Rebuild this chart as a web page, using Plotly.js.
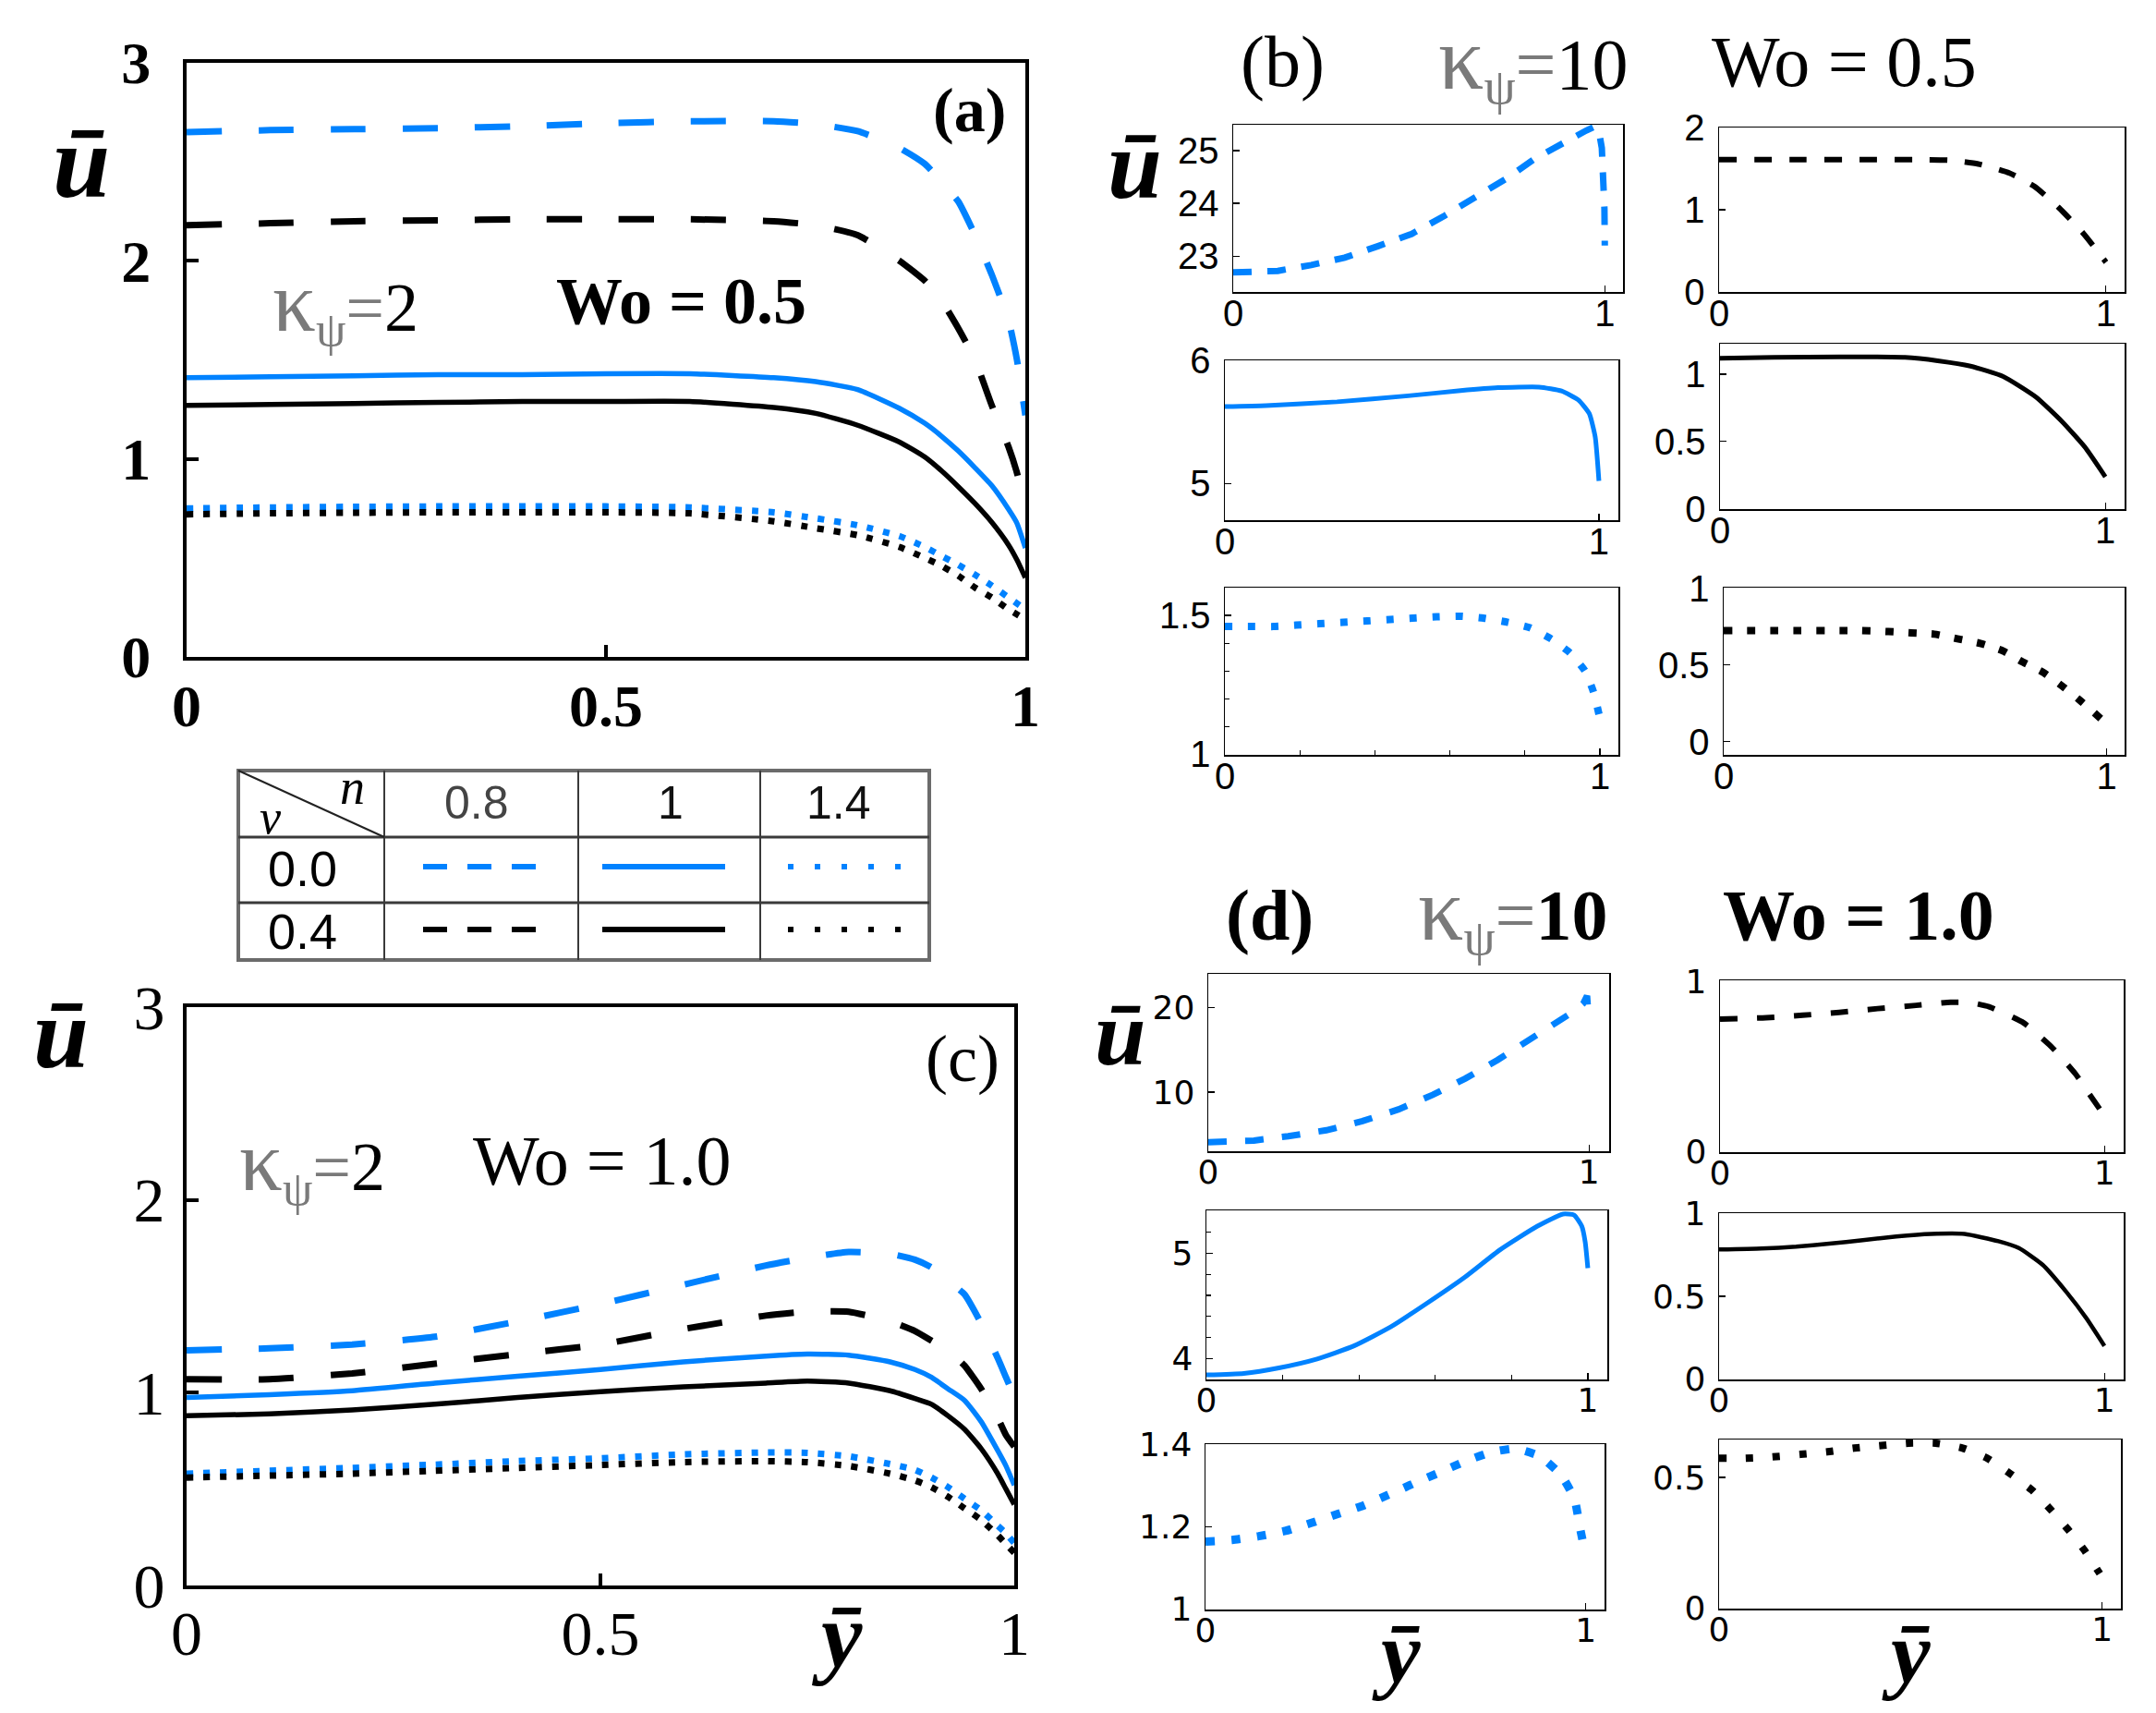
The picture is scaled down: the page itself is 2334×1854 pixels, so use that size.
<!DOCTYPE html>
<html><head><meta charset="utf-8">
<script src="https://cdn.plot.ly/plotly-3.0.1.min.js"></script>
<style>html,body{margin:0;padding:0;background:#fff}#chart{width:2334px;height:1854px}</style>
</head><body><div id="chart"></div>
<script>
const W = 2334, H = 1854;
const BLUE = '#0082ff', BLACK = '#000000';

// ---------- Panel (a): kappa_psi = 2, Wo = 0.5 ----------
const aY = [0, 0.1, 0.2, 0.3, 0.4, 0.5, 0.6, 0.7, 0.75, 0.8, 0.85, 0.88, 0.9, 0.92, 0.94, 0.96, 0.98, 0.99, 1.0];
const aNu0n08  = [2.65, 2.66, 2.665, 2.67, 2.68, 2.695, 2.705, 2.705, 2.69, 2.655, 2.57, 2.49, 2.40, 2.30, 2.13, 1.93, 1.70, 1.50, 1.22];
const aNu04n08 = [2.18, 2.19, 2.20, 2.205, 2.21, 2.21, 2.21, 2.20, 2.18, 2.13, 2.00, 1.90, 1.80, 1.66, 1.50, 1.27, 1.06, 0.93, 0.76];
const aNu0n1   = [1.41, 1.415, 1.42, 1.425, 1.425, 1.43, 1.43, 1.41, 1.39, 1.35, 1.255, 1.18, 1.115, 1.04, 0.955, 0.865, 0.745, 0.675, 0.55];
const aNu04n1  = [1.27, 1.275, 1.28, 1.285, 1.29, 1.29, 1.29, 1.26, 1.23, 1.17, 1.085, 1.01, 0.94, 0.86, 0.775, 0.68, 0.565, 0.49, 0.40];
const aNu0n14  = [0.75, 0.755, 0.758, 0.76, 0.76, 0.76, 0.755, 0.73, 0.70, 0.665, 0.61, 0.555, 0.51, 0.465, 0.415, 0.36, 0.30, 0.27, 0.24];
const aNu04n14 = [0.72, 0.725, 0.728, 0.73, 0.73, 0.73, 0.725, 0.685, 0.65, 0.615, 0.555, 0.50, 0.46, 0.41, 0.35, 0.30, 0.24, 0.215, 0.19];

// ---------- Panel (c): kappa_psi = 2, Wo = 1.0 ----------
const cY = [0, 0.1, 0.2, 0.3, 0.4, 0.5, 0.6, 0.7, 0.75, 0.8, 0.85, 0.88, 0.9, 0.92, 0.94, 0.96, 0.98, 0.99, 1.0];
const cNu0n08  = [1.22, 1.23, 1.25, 1.29, 1.37, 1.46, 1.56, 1.66, 1.70, 1.73, 1.72, 1.69, 1.65, 1.58, 1.51, 1.36, 1.18, 1.08, 0.98];
const cNu04n08 = [1.07, 1.07, 1.10, 1.15, 1.20, 1.25, 1.33, 1.40, 1.42, 1.42, 1.37, 1.32, 1.27, 1.22, 1.14, 1.02, 0.87, 0.78, 0.72];
const cNu0n1   = [0.975, 0.99, 1.01, 1.05, 1.085, 1.12, 1.16, 1.19, 1.20, 1.195, 1.16, 1.12, 1.08, 1.02, 0.96, 0.85, 0.70, 0.62, 0.52];
const cNu04n1  = [0.88, 0.89, 0.91, 0.94, 0.975, 1.005, 1.03, 1.05, 1.06, 1.05, 1.01, 0.97, 0.94, 0.88, 0.81, 0.71, 0.58, 0.50, 0.42];
const cNu0n14  = [0.58, 0.595, 0.61, 0.627, 0.645, 0.66, 0.68, 0.69, 0.688, 0.67, 0.63, 0.60, 0.56, 0.51, 0.45, 0.39, 0.31, 0.27, 0.22];
const cNu04n14 = [0.56, 0.57, 0.58, 0.595, 0.61, 0.625, 0.64, 0.645, 0.64, 0.62, 0.58, 0.545, 0.51, 0.46, 0.40, 0.34, 0.26, 0.215, 0.17];

// ---------- Panel (b): kappa_psi = 10, Wo = 0.5 ----------
const b1X = [0, 0.05, 0.12, 0.21, 0.30, 0.39, 0.48, 0.57, 0.65, 0.74, 0.81, 0.90, 0.95, 0.975, 0.985, 0.992, 0.996, 0.999, 1.0];
const b1U = [22.69, 22.69, 22.72, 22.83, 22.97, 23.19, 23.42, 23.77, 24.11, 24.49, 24.84, 25.21, 25.38, 25.46, 25.33, 25.05, 24.6, 23.9, 23.2];
const b2X = [0, 0.11, 0.3, 0.49, 0.63, 0.73, 0.84, 0.9, 0.945, 0.974, 0.99, 1.0];
const b2U = [5.626, 5.634, 5.665, 5.714, 5.756, 5.78, 5.785, 5.753, 5.68, 5.57, 5.38, 5.02];
const b3X = [0, 0.06, 0.13, 0.19, 0.25, 0.315, 0.38, 0.44, 0.5, 0.565, 0.63, 0.69, 0.755, 0.814, 0.87, 0.92, 0.96, 0.983, 0.998];
const b3U = [1.46, 1.46, 1.46, 1.465, 1.47, 1.475, 1.48, 1.485, 1.49, 1.495, 1.497, 1.49, 1.475, 1.455, 1.415, 1.365, 1.30, 1.223, 1.14];
const b4X = [0, 0.2, 0.4, 0.5, 0.6, 0.67, 0.75, 0.815, 0.878, 0.94, 1.0];
const b4U = [1.614, 1.614, 1.614, 1.612, 1.605, 1.56, 1.45, 1.285, 1.026, 0.72, 0.36];
const b5X = [0, 0.14, 0.31, 0.48, 0.565, 0.65, 0.735, 0.82, 0.887, 0.947, 1.0];
const b5U = [1.119, 1.125, 1.129, 1.125, 1.10, 1.06, 0.983, 0.83, 0.65, 0.458, 0.237];
const b6X = [0, 0.36, 0.43, 0.49, 0.55, 0.61, 0.67, 0.73, 0.78, 0.835, 0.885, 0.93, 0.985];
const b6U = [0.723, 0.723, 0.717, 0.708, 0.70, 0.67, 0.64, 0.59, 0.52, 0.45, 0.36, 0.27, 0.15];

// ---------- Panel (d): kappa_psi = 10, Wo = 1.0 ----------
const d1X = [0, 0.05, 0.12, 0.21, 0.31, 0.405, 0.5, 0.59, 0.675, 0.76, 0.84, 0.92, 0.965, 0.985, 0.995, 1.0];
const d1U = [4.08, 4.1, 4.27, 4.78, 5.48, 6.56, 7.96, 9.68, 11.6, 13.8, 16.05, 18.3, 19.7, 20.5, 21.4, 18.2];
const d2X = [0, 0.098, 0.19, 0.29, 0.387, 0.483, 0.58, 0.676, 0.77, 0.868, 0.935, 0.964, 0.984, 0.993, 1.0];
const d2U = [3.843, 3.858, 3.91, 3.995, 4.12, 4.30, 4.53, 4.77, 5.035, 5.26, 5.375, 5.365, 5.26, 5.11, 4.86];
const d3X = [0, 0.07, 0.14, 0.21, 0.28, 0.35, 0.415, 0.48, 0.55, 0.616, 0.68, 0.75, 0.815, 0.88, 0.935, 0.97, 0.984, 0.998];
const d3U = [1.164, 1.168, 1.177, 1.19, 1.21, 1.232, 1.252, 1.278, 1.307, 1.333, 1.359, 1.382, 1.391, 1.372, 1.326, 1.268, 1.20, 1.136];
const d4X = [0, 0.12, 0.215, 0.31, 0.41, 0.51, 0.6, 0.65, 0.70, 0.79, 0.86, 0.925, 0.96, 1.0];
const d4U = [0.778, 0.786, 0.80, 0.817, 0.839, 0.858, 0.876, 0.875, 0.85, 0.755, 0.62, 0.455, 0.34, 0.21];
const d5X = [0, 0.11, 0.2, 0.286, 0.373, 0.46, 0.55, 0.637, 0.725, 0.778, 0.84, 0.90, 0.953, 1.0];
const d5U = [0.783, 0.789, 0.80, 0.818, 0.84, 0.862, 0.877, 0.877, 0.833, 0.792, 0.69, 0.53, 0.368, 0.20];
const d6X = [0, 0.066, 0.137, 0.212, 0.283, 0.353, 0.424, 0.495, 0.565, 0.636, 0.70, 0.76, 0.817, 0.866, 0.91, 0.954, 0.994];
const d6U = [0.573, 0.573, 0.578, 0.588, 0.598, 0.612, 0.622, 0.631, 0.631, 0.612, 0.573, 0.514, 0.451, 0.376, 0.302, 0.22, 0.131];

// legend table labels
const nLabels = ['0.8', '1', '1.4'];
const nuLabels = ['0.0', '0.4'];

// ---------------- helpers ----------------
const PX = x => x / W;
const PY = y => 1 - y / H;
const SERIF = 'Liberation Serif, Times New Roman, DejaVu Serif, serif';
const SANS = 'Liberation Sans, Arial, sans-serif';
const DSANS = 'DejaVu Sans, Verdana, sans-serif';

function xAxis(x0, x1, range, anchor, o) {
  return Object.assign({
    domain: [PX(x0), PX(x1)], range: range, anchor: anchor,
    showgrid: false, zeroline: false, showline: true, mirror: true,
    linecolor: '#000', ticks: 'inside', tickcolor: '#000', fixedrange: true
  }, o);
}
function yAxis(y0, y1, range, anchor, o) {
  return Object.assign({
    domain: [PY(y1), PY(y0)], range: range, anchor: anchor,
    showgrid: false, zeroline: false, showline: true, mirror: true,
    linecolor: '#000', ticks: 'inside', tickcolor: '#000', fixedrange: true
  }, o);
}

const bigA = { linewidth: 4, ticklen: 13, tickwidth: 4, tickfont: { family: SERIF, size: 64, color: '#000', weight: 'bold' } };
const bigC = { linewidth: 4, ticklen: 13, tickwidth: 4, tickfont: { family: SERIF, size: 68, color: '#000' } };
const smB = { linewidth: 1.5, ticklen: 7, tickwidth: 1.2, tickfont: { family: SANS, size: 40, color: '#000' } };
const smD = { linewidth: 1.5, ticklen: 7, tickwidth: 1.2, tickfont: { family: DSANS, size: 36, color: '#000' } };
const sX = o => Object.assign({}, o, { ticklabelstandoff: -13 });
const sY = o => Object.assign({}, o, { ticklabelstandoff: 6 });
const dX = o => Object.assign({}, o, { ticklabelstandoff: -10 });

const layout = {
  width: W, height: H, margin: { l: 0, r: 0, t: 0, b: 0 },
  paper_bgcolor: '#fff', plot_bgcolor: 'rgba(0,0,0,0)', showlegend: false,
  // (a)
  xaxis: xAxis(202, 1110, [0, 1], 'y', Object.assign({}, bigA, { ticklabelstandoff: -6, tickvals: [0, 0.5, 1], ticktext: ['0', '0.5', '1'] })),
  yaxis: yAxis(68, 711, [0, 3], 'x', Object.assign({}, bigA, { ticklabelstandoff: 22, tickvals: [0, 1, 2, 3], ticktext: ['0', '1', '2', '3'] })),
  // (c)
  xaxis2: xAxis(202, 1098, [0, 1], 'y2', Object.assign({}, bigC, { ticklabelstandoff: -11, tickvals: [0, 0.5, 1], ticktext: ['0', '0.5', '1'] })),
  yaxis2: yAxis(1090, 1716, [0, 3], 'x2', Object.assign({}, bigC, { ticklabelstandoff: 6, tickvals: [0, 1, 2, 3], ticktext: ['0', '1', '2', '3'] })),
  // (b) left column
  xaxis3: xAxis(1335, 1757, [0, 1.049], 'y3', Object.assign(sX(smB), { tickvals: [0, 1] })),
  yaxis3: yAxis(135, 316, [22.32, 25.49], 'x3', Object.assign(sY(smB), { tickvals: [23, 24, 25] })),
  xaxis4: xAxis(1326, 1752, [0, 1.052], 'y4', Object.assign(sX(smB), { tickvals: [0, 1] })),
  yaxis4: yAxis(390, 563, [4.70, 6.003], 'x4', Object.assign(sY(smB), { tickvals: [5, 6] })),
  xaxis5: xAxis(1326, 1752, [0, 1.049], 'y5', Object.assign(sX(smB), { tickvals: [0, 1], minor: { tickvals: [0.2, 0.4, 0.6, 0.8], ticks: 'inside', ticklen: 5, tickcolor: '#000' } })),
  yaxis5: yAxis(636, 817, [0.998, 1.6], 'x5', Object.assign(sY(smB), { tickvals: [1, 1.5], ticktext: ['1', '1.5'], minor: { tickvals: [1.1, 1.2, 1.3, 1.4], ticks: 'inside', ticklen: 5, tickcolor: '#000' } })),
  // (b) right column
  xaxis6: xAxis(1861, 2300, [0, 1.048], 'y6', Object.assign(sX(smB), { tickvals: [0, 1] })),
  yaxis6: yAxis(138, 316, [-0.003, 2.005], 'x6', Object.assign(sY(smB), { tickvals: [0, 1, 2] })),
  xaxis7: xAxis(1862, 2300, [0, 1.05], 'y7', Object.assign(sX(smB), { tickvals: [0, 1] })),
  yaxis7: yAxis(372, 551, [-0.003, 1.227], 'x7', Object.assign(sY(smB), { tickvals: [0, 0.5, 1], ticktext: ['0', '0.5', '1'] })),
  xaxis8: xAxis(1866, 2300, [0, 1.047], 'y8', Object.assign(sX(smB), { tickvals: [0, 1] })),
  yaxis8: yAxis(636, 817, [-0.086, 1.003], 'x8', Object.assign(sY(smB), { tickvals: [0, 0.5, 1], ticktext: ['0', '0.5', '1'] })),
  // (d) left column
  xaxis9: xAxis(1308, 1742, [0, 1.053], 'y9', Object.assign(dX(smD), { tickvals: [0, 1] })),
  yaxis9: yAxis(1054, 1246, [3, 24], 'x9', Object.assign(sY(smD), { tickvals: [10, 20] })),
  xaxis10: xAxis(1306, 1740, [0, 1.051], 'y10', Object.assign(dX(smD), { tickvals: [0, 1], minor: { tickvals: [0.2, 0.4, 0.6, 0.8], ticks: 'inside', ticklen: 5, tickcolor: '#000' } })),
  yaxis10: yAxis(1310, 1493, [3.8, 5.41], 'x10', Object.assign(sY(smD), { tickvals: [4, 5], minor: { tickvals: [4.2, 4.4, 4.6, 4.8, 5.2], ticks: 'inside', ticklen: 5, tickcolor: '#000' } })),
  xaxis11: xAxis(1305, 1737, [0, 1.049], 'y11', Object.assign(dX(smD), { tickvals: [0, 1] })),
  yaxis11: yAxis(1563, 1742, [0.998, 1.402], 'x11', Object.assign(sY(smD), { tickvals: [1, 1.2, 1.4], ticktext: ['1', '1.2', '1.4'] })),
  // (d) right column
  xaxis12: xAxis(1862, 2299, [0, 1.05], 'y12', Object.assign(dX(smD), { tickvals: [0, 1] })),
  yaxis12: yAxis(1061, 1247, [-0.003, 1.005], 'x12', Object.assign(sY(smD), { tickvals: [0, 1] })),
  xaxis13: xAxis(1861, 2299, [0, 1.05], 'y13', Object.assign(dX(smD), { tickvals: [0, 1] })),
  yaxis13: yAxis(1313, 1493, [-0.003, 1.003], 'x13', Object.assign(sY(smD), { tickvals: [0, 0.5, 1], ticktext: ['0', '0.5', '1'] })),
  xaxis14: xAxis(1861, 2296, [0, 1.049], 'y14', Object.assign(dX(smD), { tickvals: [0, 1] })),
  yaxis14: yAxis(1558, 1741, [-0.003, 0.645], 'x14', Object.assign(sY(smD), { tickvals: [0, 0.5], ticktext: ['0', '0.5'] })),
  annotations: [],
  shapes: []
};

// ---------------- traces ----------------
const traces = [];
function addLine(x, y, ax, color, width, dash, shape) {
  traces.push({
    x: x, y: y, xaxis: 'x' + (ax === 1 ? '' : ax), yaxis: 'y' + (ax === 1 ? '' : ax),
    type: 'scatter', mode: 'lines', hoverinfo: 'skip',
    line: { color: color, width: width, dash: dash, shape: shape || 'spline', smoothing: 0.5 }
  });
}
const DASH_BIG = '38px,40px', DOT_BIG = '7px,11px';
// (a)
addLine(aY, aNu0n08, 1, BLUE, 7, DASH_BIG);
addLine(aY, aNu04n08, 1, BLACK, 7, DASH_BIG);
addLine(aY, aNu0n1, 1, BLUE, 5.5, 'solid');
addLine(aY, aNu04n1, 1, BLACK, 5.5, 'solid');
addLine(aY, aNu0n14, 1, BLUE, 7, DOT_BIG);
addLine(aY, aNu04n14, 1, BLACK, 7, DOT_BIG);
// (c)
addLine(cY, cNu0n08, 2, BLUE, 7, DASH_BIG);
addLine(cY, cNu04n08, 2, BLACK, 7, DASH_BIG);
addLine(cY, cNu0n1, 2, BLUE, 5.5, 'solid');
addLine(cY, cNu04n1, 2, BLACK, 5.5, 'solid');
addLine(cY, cNu0n14, 2, BLUE, 7, DOT_BIG);
addLine(cY, cNu04n14, 2, BLACK, 7, DOT_BIG);
// (b)
addLine(b1X, b1U, 3, BLUE, 7, '20px,17px', 'linear');
addLine(b2X, b2U, 4, BLUE, 5, 'solid');
addLine(b3X, b3U, 5, BLUE, 8, '8px,17px');
addLine(b4X, b4U, 6, BLACK, 6, '19px,19px');
addLine(b5X, b5U, 7, BLACK, 5, 'solid');
addLine(b6X, b6U, 8, BLACK, 8, '9px,16px');
// (d)
addLine(d1X, d1U, 9, BLUE, 7, '20px,20px', 'linear');
addLine(d2X, d2U, 10, BLUE, 5, 'solid');
addLine(d3X, d3U, 11, BLUE, 9, '10px,18px');
addLine(d4X, d4U, 12, BLACK, 6, '19px,21px');
addLine(d5X, d5U, 13, BLACK, 4.5, 'solid');
addLine(d6X, d6U, 14, BLACK, 8, '8px,21px');

// ---------------- annotations ----------------
function ann(text, x, y, size, family, extra) {
  layout.annotations.push(Object.assign({
    text: text, xref: 'paper', yref: 'paper', x: PX(x), y: PY(y),
    xanchor: 'center', yanchor: 'middle', showarrow: false,
    font: { family: family || SERIF, size: size, color: '#000' }
  }, extra || {}));
}
const G = '#7a7a7a';
function kappa(v, size) {
  const k = Math.round(size * 1.25);
  return `<span style="color:${G};font-size:${k}px">κ</span><sub><span style="color:${G}">ψ</span></sub><span style="color:${G}">=</span>${v}`;
}
// (a)
ann('<b><i>ū</i></b>', 88, 175, 112);
ann('<b>(a)</b>', 1049, 119, 68);
ann(kappa('2', 74), 374, 330, 74);
ann('<b>Wo = 0.5</b>', 737, 326, 72);
// (c)
ann('<b><i>ū</i></b>', 66, 1118, 108);
ann('(c)', 1042, 1146, 72);
ann(kappa('2', 74), 338, 1260, 74);
ann('Wo = 1.0', 652, 1256, 76);
ann('<b><i>ȳ</i></b>', 906, 1770, 100);
// (b)
ann('(b)', 1388, 66, 78);
ann(kappa('10', 78), 1660, 66, 78);
ann('Wo = 0.5', 1996, 66, 78);
ann('<b><i>ū</i></b>', 1228, 178, 106);
// (d)
ann('<b>(d)</b>', 1374, 990, 78);
ann(kappa('<b>10</b>', 78), 1638, 988, 78);
ann('<b>Wo = 1.0</b>', 2012, 990, 78);
ann('<b><i>ū</i></b>', 1213, 1118, 100);
ann('<b><i>ȳ</i></b>', 1511, 1788, 96);
ann('<b><i>ȳ</i></b>', 2063, 1788, 96);

// ---------------- legend table ----------------
const T = { x0: 258, x1: 1006, y0: 834, y1: 1039 };
const colX = [416, 626, 823];
const rowY = [906, 977];
function shp(s) { layout.shapes.push(Object.assign({ xref: 'paper', yref: 'paper', layer: 'above' }, s)); }
shp({ type: 'rect', x0: PX(T.x0), x1: PX(T.x1), y0: PY(T.y0), y1: PY(T.y1), line: { color: '#6b6b6b', width: 4 }, fillcolor: 'rgba(0,0,0,0)' });
colX.forEach(c => shp({ type: 'line', x0: PX(c), x1: PX(c), y0: PY(T.y0), y1: PY(T.y1), line: { color: '#3a3a3a', width: 2 } }));
rowY.forEach(r => shp({ type: 'line', x0: PX(T.x0), x1: PX(T.x1), y0: PY(r), y1: PY(r), line: { color: '#3a3a3a', width: 3 } }));
shp({ type: 'line', x0: PX(T.x0), x1: PX(colX[0]), y0: PY(T.y0), y1: PY(rowY[0]), line: { color: '#222', width: 2 } });
ann('<i>ν</i>', 293, 884, 52);
ann('<i>n</i>', 381, 852, 54);
const hdrX = [516, 726, 908];
nLabels.forEach((t, i) => ann(t, hdrX[i], 869, 50, SANS, { font: { family: SANS, size: 50, color: i === 0 ? '#444' : '#111' } }));
const rowTxtY = [940, 1008];
nuLabels.forEach((t, i) => ann(t, 327, rowTxtY[i], 54, SANS));
const rowCol = [BLUE, BLACK];
const sampY = [938, 1006];
for (let r = 0; r < 2; r++) {
  shp({ type: 'line', x0: PX(458), x1: PX(582), y0: PY(sampY[r]), y1: PY(sampY[r]), line: { color: rowCol[r], width: 6, dash: '26px,22px' } });
  shp({ type: 'line', x0: PX(652), x1: PX(785), y0: PY(sampY[r]), y1: PY(sampY[r]), line: { color: rowCol[r], width: 6 } });
  shp({ type: 'line', x0: PX(853), x1: PX(977), y0: PY(sampY[r]), y1: PY(sampY[r]), line: { color: rowCol[r], width: 6, dash: '6px,23px' } });
}

Plotly.newPlot('chart', traces, layout, { staticPlot: true, displayModeBar: false });
</script>
</body></html>
